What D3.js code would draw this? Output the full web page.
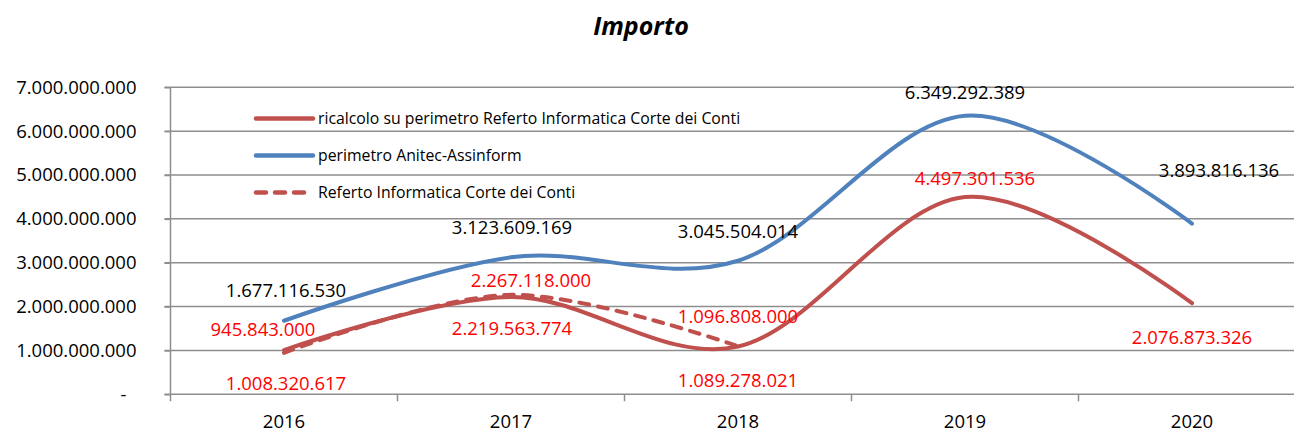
<!DOCTYPE html>
<html>
<head>
<meta charset="utf-8">
<script src="https://cdn.jsdelivr.net/npm/d3@7"></script>
<style>
  body { margin: 0; background: #fff; }
  svg text { font-family: "Open Sans", "Noto Sans", sans-serif; }
</style>
</head>
<body>
<div id="chart"></div>
<script>
// data
const years = ["2016", "2017", "2018", "2019", "2020"];
const ricalcolo = [1008320617, 2219563774, 1089278021, 4497301536, 2076873326];
const anitec = [1677116530, 3123609169, 3045504014, 6349292389, 3893816136];
const referto = [945843000, 2267118000, 1096808000];
const yTicks = [0, 1e9, 2e9, 3e9, 4e9, 5e9, 6e9, 7e9];
const seriesNames = [
  "ricalcolo su perimetro Referto Informatica Corte dei Conti",
  "perimetro Anitec-Assinform",
  "Referto Informatica Corte dei Conti"
];

// label offsets from each point (layout only)
const anitecLabelOff = [[2, -30], [1, -30], [0, -29], [0, -23], [27, -53]];
const ricalcoloLabelOff = [[2, 33], [1, 32], [0, 34], [10, -19], [0, 34]];
const refertoLabelOff = [[-21, -23], [20, -14], [0, -30]];

const width = 1294, height = 432;
const plotLeft = 170.5, plotRight = 170.5 + 5 * 227, plotTop = 87.3, plotBottom = 394.3;

const it = d3.formatLocale({decimal: ",", thousands: ".", grouping: [3], currency: ["", "€"]});
const fmt = it.format(",d");

const svg = d3.select("#chart").append("svg")
  .attr("width", width)
  .attr("height", height);

const x = d3.scaleBand().domain(years).range([plotLeft, plotRight]).padding(0);
const y = d3.scaleLinear().domain([0, 7e9]).range([plotBottom, plotTop]);
const cx = function (d, i) { return x(years[i]) + x.bandwidth() / 2; };

// title
svg.append("text")
  .attr("x", 641).attr("y", 35)
  .attr("text-anchor", "middle")
  .style("font-size", "25px")
  .style("font-weight", "bold")
  .style("font-style", "italic")
  .text("Importo");

//---------------------------GRID & AXES---------------------------//
const gridColor = "#8e8e8e";
svg.append("g")
  .selectAll("line")
  .data(yTicks.slice(1))
  .enter().append("line")
  .attr("x1", plotLeft - 6).attr("x2", plotRight)
  .attr("y1", function (d) { return y(d); })
  .attr("y2", function (d) { return y(d); })
  .style("stroke", gridColor)
  .style("stroke-width", 1.5);

const yaxis = d3.axisLeft(y)
  .tickValues(yTicks)
  .tickSize(6)
  .tickPadding(28)
  .tickFormat(function (d) { return d === 0 ? "-" : fmt(d); });

const gy = svg.append("g")
  .attr("transform", "translate(" + plotLeft + ",0)")
  .call(yaxis);
gy.select(".domain").remove();
gy.selectAll(".tick line").style("stroke", gridColor).style("stroke-width", 1.5);
gy.selectAll(".tick text")
  .attr("x", -34)
  .style("font-size", "18.5px")
  .style("fill", "#000");
gy.selectAll(".tick text").filter(function (d) { return d === 0; }).attr("x", -44);

// vertical axis line
svg.append("line")
  .attr("x1", plotLeft).attr("x2", plotLeft)
  .attr("y1", plotTop).attr("y2", plotBottom + 7)
  .style("stroke", gridColor).style("stroke-width", 1.5);

// x axis
svg.append("line")
  .attr("x1", plotLeft - 6).attr("x2", plotRight)
  .attr("y1", plotBottom).attr("y2", plotBottom)
  .style("stroke", gridColor).style("stroke-width", 1.5);

svg.append("g")
  .selectAll("line")
  .data(years.slice(1))
  .enter().append("line")
  .attr("x1", function (d) { return x(d); })
  .attr("x2", function (d) { return x(d); })
  .attr("y1", plotBottom).attr("y2", plotBottom + 7)
  .style("stroke", gridColor).style("stroke-width", 1.5);

svg.append("g")
  .selectAll("text")
  .data(years)
  .enter().append("text")
  .attr("x", function (d) { return x(d) + x.bandwidth() / 2; })
  .attr("y", 428)
  .attr("text-anchor", "middle")
  .style("font-size", "18.5px")
  .text(function (d) { return d; });

//-----------------------------LINES------------------------------//
const line = d3.line()
  .x(cx)
  .y(function (d) { return y(d); })
  .curve(d3.curveCardinal.tension(0));

const red = "#c0504d", blue = "#4f81bd";

svg.append("path")
  .datum(anitec)
  .attr("d", line)
  .style("fill", "none").style("stroke", blue)
  .style("stroke-width", 4).style("stroke-linecap", "round");

svg.append("path")
  .datum(ricalcolo)
  .attr("d", line)
  .style("fill", "none").style("stroke", red)
  .style("stroke-width", 4).style("stroke-linecap", "round");

svg.append("path")
  .datum(referto)
  .attr("d", line)
  .style("fill", "none").style("stroke", red)
  .style("stroke-width", 4).style("stroke-linecap", "round")
  .style("stroke-dasharray", "10,9");

//-----------------------------LABELS-----------------------------//
function labels(values, offs, color) {
  svg.append("g")
    .selectAll("text")
    .data(values)
    .enter().append("text")
    .attr("x", function (d, i) { return cx(d, i) + offs[i][0]; })
    .attr("y", function (d, i) { return y(d) + offs[i][1]; })
    .attr("dy", "0.35em")
    .attr("text-anchor", "middle")
    .style("font-size", "18.5px")
    .style("fill", color)
    .text(function (d) { return fmt(d); });
}
labels(anitec, anitecLabelOff, "#000");
labels(ricalcolo, ricalcoloLabelOff, "#ff0000");
labels(referto, refertoLabelOff, "#ff0000");

//-----------------------------LEGEND-----------------------------//
const legend = svg.append("g")
  .selectAll("g")
  .data(seriesNames)
  .enter().append("g")
  .attr("transform", function (d, i) { return "translate(256," + (118.5 + i * 37) + ")"; });

legend.append("line")
  .attr("x1", 0).attr("x2", function (d, i) { return i === 2 ? 54 : 57; })
  .style("stroke", function (d, i) { return i === 1 ? blue : red; })
  .style("stroke-width", 4.5)
  .style("stroke-linecap", "round")
  .style("stroke-dasharray", function (d, i) { return i === 2 ? "10,9" : null; });

legend.append("text")
  .attr("x", 62)
  .attr("dy", "0.35em")
  .style("font-size", "15.8px")
  .text(function (d) { return d; });
</script>
</body>
</html>
